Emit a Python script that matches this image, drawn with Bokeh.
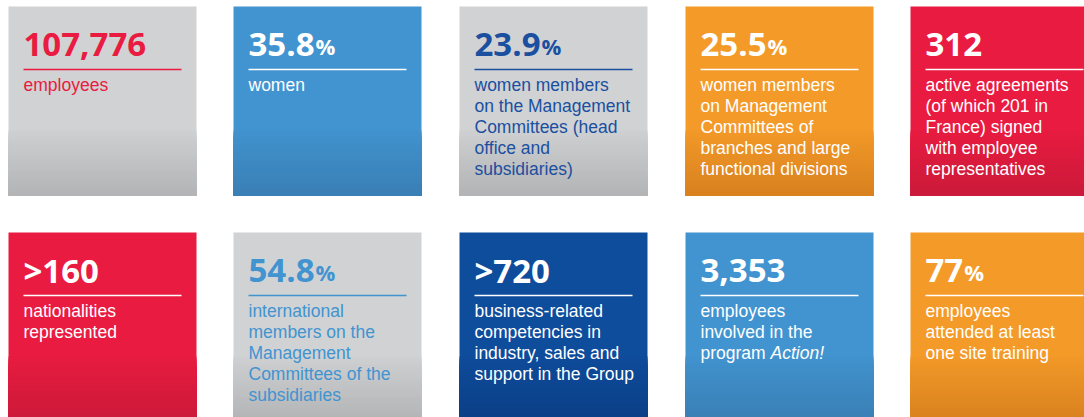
from bokeh.plotting import figure
from bokeh.models import Range1d, ColumnDataSource
from bokeh.core.properties import value
from bokeh.embed import file_html
from bokeh.resources import INLINE

# ---- data ----
values = ["107,776", "35.8", "23.9", "25.5", "312", ">160", "54.8", ">720", "3,353", "77"]
suffixes = ["", "%", "%", "%", "", "", "%", "", "", "%"]
descriptions = [
    ["employees"],
    ["women"],
    ["women members", "on the Management", "Committees (head", "office and", "subsidiaries)"],
    ["women members", "on Management", "Committees of", "branches and large", "functional divisions"],
    ["active agreements", "(of which 201 in", "France) signed", "with employee", "representatives"],
    ["nationalities", "represented"],
    ["international", "members on the", "Management", "Committees of the", "subsidiaries"],
    ["business-related", "competencies in", "industry, sales and", "support in the Group"],
    ["employees", "involved in the", "program |Action!"],
    ["employees", "attended at least", "one site training"],
]
tile_themes = ["gray", "blue", "gray", "orange", "red", "red", "gray", "navy", "blue", "orange"]

# ---- styles ----
THEME = {
    "gray":   dict(top="#D1D2D4", bottom="#B3B4B6"),
    "blue":   dict(top="#4194D0", bottom="#3A7FB6"),
    "navy":   dict(top="#0E4C9C", bottom="#0B3F86"),
    "orange": dict(top="#F49A29", bottom="#D9811F"),
    "red":    dict(top="#E91B40", bottom="#CC1A3A"),
}
TEXT_COLORS = ["#E91B40", "white", "#1B4F9F", "white", "white",
               "white", "#4194D0", "white", "white", "white"]

COL_X = [8, 233, 459, 685, 910]
ROW_Y = [6, 232]
TW, TH = 188, 189
NUM_SIZE = 33
PCT_SIZE = 22
DESC_SIZE = 17.5
LINE_H = 21
NUM_DY = 38
RULE_DY = 63
DESC_DY = 78

# Helvetica/Liberation Sans advance widths (em) for width estimates
HELV = {c: 0.556 for c in "abdeghnopquv0123456789"}
HELV.update({"c": 0.5, "k": 0.5, "s": 0.5, "x": 0.5, "y": 0.5, "z": 0.5, "f": 0.278,
             "i": 0.222, "j": 0.222, "l": 0.222, "t": 0.278, "r": 0.333, "m": 0.833,
             "w": 0.722, " ": 0.278})

def text_width(s, size):
    return sum(HELV.get(c, 0.556) for c in s) * size

def hex2rgb(h):
    h = h.lstrip("#")
    return tuple(int(h[i:i + 2], 16) for i in (0, 2, 4))

def mix(a, b, t):
    ra, rb = hex2rgb(a), hex2rgb(b)
    return "#%02x%02x%02x" % tuple(int(round(ra[i] + (rb[i] - ra[i]) * t)) for i in range(3))

def num_width(s, size):
    w = 0.0
    for c in s:
        if c.isdigit() or c == ">":
            w += 0.572
        else:
            w += 0.286
    return w * size

p = figure(width=1084, height=417, output_backend="svg", toolbar_location=None,
           x_range=Range1d(0, 1084), y_range=Range1d(417, 0),
           min_border=0, outline_line_color=None)
p.axis.visible = False
p.grid.visible = False
p.background_fill_color = "white"
p.border_fill_color = "white"

# tiles: solid block, then stacked gradient bands each reaching the tile bottom
qs = dict(left=[], right=[], top=[], bottom=[], color=[])
N = 24
g0 = 124
for i, theme in enumerate(tile_themes):
    x0 = COL_X[i % 5]
    y0 = ROW_Y[i // 5]
    c = THEME[theme]
    qs["left"].append(x0); qs["right"].append(x0 + TW)
    qs["top"].append(y0); qs["bottom"].append(y0 + TH)
    qs["color"].append(c["top"])
    step = (TH - g0) / N
    for k in range(N):
        t = 0.1 + 0.9 * (k / (N - 1))
        qs["left"].append(x0); qs["right"].append(x0 + TW)
        qs["top"].append(y0 + g0 + k * step)
        qs["bottom"].append(y0 + TH)
        qs["color"].append(mix(c["top"], c["bottom"], t))
p.quad(left="left", right="right", top="top", bottom="bottom", fill_color="color",
       line_color=None, source=ColumnDataSource(qs))

# numbers, percent signs, rules, descriptions
nums = dict(x=[], y=[], t=[], c=[])
pcts = dict(x=[], y=[], t=[], c=[])
rules = dict(x0=[], x1=[], y=[], c=[])
desc = dict(x=[], y=[], t=[], c=[])
ital = dict(x=[], y=[], t=[], c=[])
for i in range(len(values)):
    x0 = COL_X[i % 5]
    y0 = ROW_Y[i // 5]
    col = TEXT_COLORS[i]
    tx = x0 + 15
    nums["x"].append(tx); nums["y"].append(y0 + NUM_DY); nums["t"].append(values[i]); nums["c"].append(col)
    if suffixes[i]:
        pcts["x"].append(tx + num_width(values[i], NUM_SIZE) + 1)
        pcts["y"].append(y0 + NUM_DY + 1); pcts["t"].append(suffixes[i]); pcts["c"].append(col)
    rules["x0"].append(x0 + 15); rules["x1"].append(x0 + 173)
    rules["y"].append(y0 + RULE_DY); rules["c"].append(col)
    for k, line in enumerate(descriptions[i]):
        yy = y0 + DESC_DY + k * LINE_H
        if "|" in line:
            a, b = line.split("|")
            desc["x"].append(tx); desc["y"].append(yy); desc["t"].append(a); desc["c"].append(col)
            ital["x"].append(tx + text_width(a, DESC_SIZE)); ital["y"].append(yy)
            ital["t"].append(b); ital["c"].append(col)
        else:
            desc["x"].append(tx); desc["y"].append(yy); desc["t"].append(line); desc["c"].append(col)

p.text(x="x", y="y", text="t", text_color="c", source=ColumnDataSource(nums),
       text_font=value("Open Sans"), text_font_style="bold",
       text_font_size=f"{NUM_SIZE}px", text_baseline="alphabetic", text_align="left")
p.text(x="x", y="y", text="t", text_color="c", source=ColumnDataSource(pcts),
       text_font=value("Open Sans"), text_font_style="bold",
       text_font_size=f"{PCT_SIZE}px", text_baseline="alphabetic", text_align="left")
p.segment(x0="x0", x1="x1", y0="y", y1="y", line_color="c", line_width=1.5,
          source=ColumnDataSource(rules))
p.text(x="x", y="y", text="t", text_color="c", source=ColumnDataSource(desc),
       text_font=value("Liberation Sans"), text_font_size=f"{DESC_SIZE}px",
       text_baseline="alphabetic", text_align="left")
p.text(x="x", y="y", text="t", text_color="c", source=ColumnDataSource(ital),
       text_font=value("Liberation Sans"), text_font_style="italic",
       text_font_size=f"{DESC_SIZE}px", text_baseline="alphabetic", text_align="left")

open("out.html", "w").write(file_html(p, INLINE))
